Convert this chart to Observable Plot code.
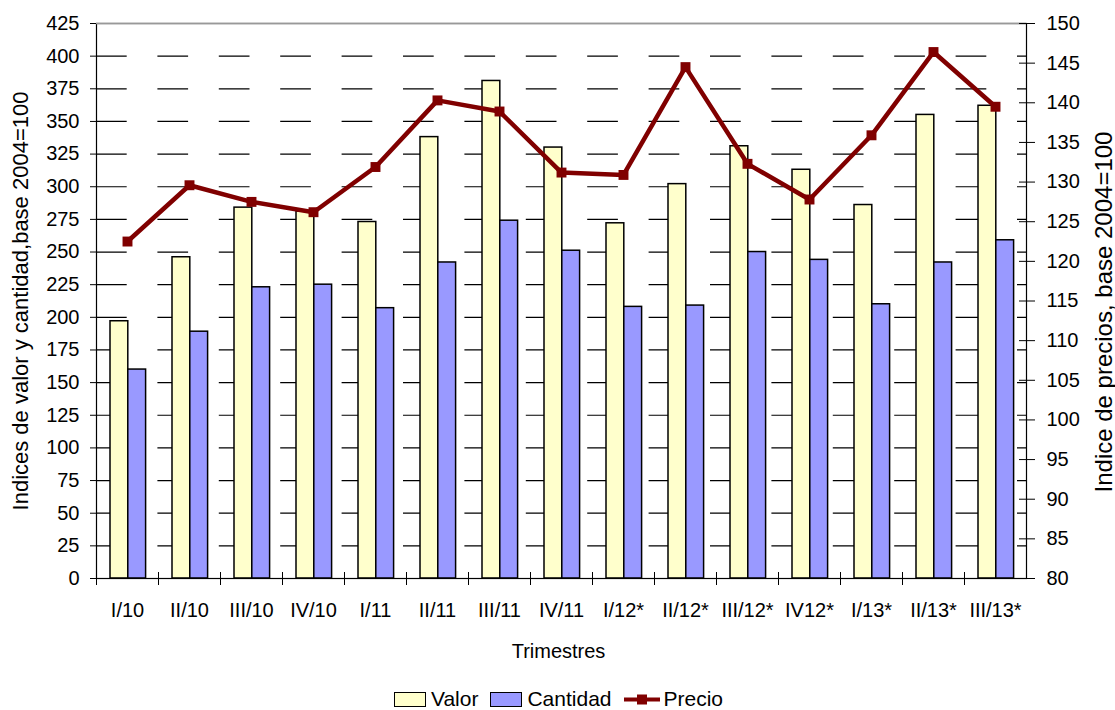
<!DOCTYPE html>
<html>
<head>
<meta charset="utf-8">
<script src="https://cdn.jsdelivr.net/npm/d3@7"></script>
<script src="https://cdn.jsdelivr.net/npm/@observablehq/plot@0.6"></script>
<style>
  body { margin: 0; background: #fff; font-family: "Liberation Sans", Arial, sans-serif; }
  #legend { height: 48px; display: flex; justify-content: center; align-items: center; font-size: 21px; color: #000; padding-left: 2px; }
  .sw { width: 30px; height: 13px; border: 1px solid #000; margin-right: 5px; }
  .lab { margin-right: 12px; }
</style>
</head>
<body>
<div id="chart"></div>
<div id="legend">
  <div class="sw" style="background:#FFFFCC"></div><span class="lab">Valor</span>
  <div class="sw" style="background:#9999FF"></div><span class="lab">Cantidad</span>
  <svg width="36" height="15" style="margin-right:4px"><line x1="0" y1="7.5" x2="36" y2="7.5" stroke="#800000" stroke-width="4"/><rect x="13" y="2.5" width="10" height="10" fill="#800000"/></svg><span>Precio</span>
</div>
<script>
const trimestres = ["I/10","II/10","III/10","IV/10","I/11","II/11","III/11","IV/11","I/12*","II/12*","III/12*","IV12*","I/13*","II/13*","III/13*"];
const valor    = [197, 246, 284, 281, 273, 338, 381, 330, 272, 302, 331, 313, 286, 355, 362];
const cantidad = [160, 189, 223, 225, 207, 242, 274, 251, 208, 209, 250, 244, 210, 242, 259];
const precio   = [122.5, 129.6, 127.5, 126.2, 131.9, 140.3, 138.9, 131.2, 130.9, 144.5, 132.3, 127.8, 135.9, 146.4, 139.5];
const leftTicks  = d3.range(0, 426, 25);
const rightTicks = d3.range(80, 151, 5);
const leftLabel  = "Indices de valor y cantidad,base 2004=100";
const rightLabel = "Indice de precios, base 2004=100";
const xLabel     = "Trimestres";

const W = 1115, H = 675;
const mL = 96, mR = 89, mT = 23, mB = 97;
const bw = (W - mL - mR) / trimestres.length;
// right axis mapping (80..150) -> left scale (0..425)
const toLeft = p => (p - 80) * 425 / 70;
const fromLeft = v => 80 + v * 70 / 425;

const rows = trimestres.map((t, i) => ({t, valor: valor[i], cantidad: cantidad[i], precio: precio[i], pl: toLeft(precio[i])}));

const chart = Plot.plot({
  width: W, height: H,
  marginLeft: mL, marginRight: mR, marginTop: mT, marginBottom: mB,
  style: {fontFamily: "'Liberation Sans', Arial, sans-serif", fontSize: "20px", color: "#000", background: "#fff", overflow: "visible"},
  x: {type: "band", domain: trimestres, padding: 0, axis: null},
  y: {domain: [0, 425], axis: null},
  marks: [
    Plot.ruleY(leftTicks.filter(d => d > 0 && d < 425), {stroke: "#000", strokeWidth: 1.2, strokeDasharray: `${bw/2 - 0.3},${bw/2 - 0.3}`}),
    Plot.barY(rows, {x: "t", y: "valor", fill: "#FFFFCC", stroke: "#000", strokeWidth: 1.5, insetLeft: 14, insetRight: bw - 31.8}),
    Plot.barY(rows, {x: "t", y: "cantidad", fill: "#9999FF", stroke: "#000", strokeWidth: 1.5, insetLeft: 31.8, insetRight: bw - 49.6}),
    Plot.line(rows, {x: "t", y: "pl", stroke: "#800000", strokeWidth: 4.5}),
    Plot.dot(rows, {x: "t", y: "pl", symbol: "square", r: 5.6, fill: "#800000", stroke: "none"}),
    Plot.frame({stroke: "#000", strokeWidth: 1.2}),
    Plot.ruleY([425], {stroke: "#999", strokeWidth: 1.5}),
    Plot.axisY(leftTicks, {anchor: "left", tickSize: 6, tickPadding: 11, label: null, stroke: "#000"}),
    Plot.axisY(rightTicks.map(toLeft), {anchor: "right", tickSize: 8, tickPadding: 12, label: null, stroke: "#000", tickFormat: d => String(Math.round(fromLeft(d)))}),
    Plot.axisY(rightTicks.map(toLeft), {anchor: "right", tickSize: -8, tickFormat: () => "", label: null, stroke: "#000"}),
    Plot.axisX({tickSize: 0, tickPadding: 24, label: null}),
    Plot.axisX({tickSize: 7, dx: -bw / 2, tickFormat: () => "", label: null, stroke: "#000"}),
    Plot.axisX({tickSize: -6, dx: -bw / 2, tickFormat: () => "", label: null, stroke: "#000"}),
    Plot.text([leftLabel], {frameAnchor: "left", textAnchor: "middle", rotate: -90, dx: -76, fontSize: 22, fill: "#000"}),
    Plot.text([rightLabel], {frameAnchor: "right", textAnchor: "middle", rotate: -90, dx: 78, dy: 11, fontSize: 24, fill: "#000"}),
    Plot.text([xLabel], {frameAnchor: "bottom", dy: 79, dx: -3, fontSize: 20, fill: "#000"})
  ]
});
document.getElementById("chart").appendChild(chart);
</script>
</body>
</html>
